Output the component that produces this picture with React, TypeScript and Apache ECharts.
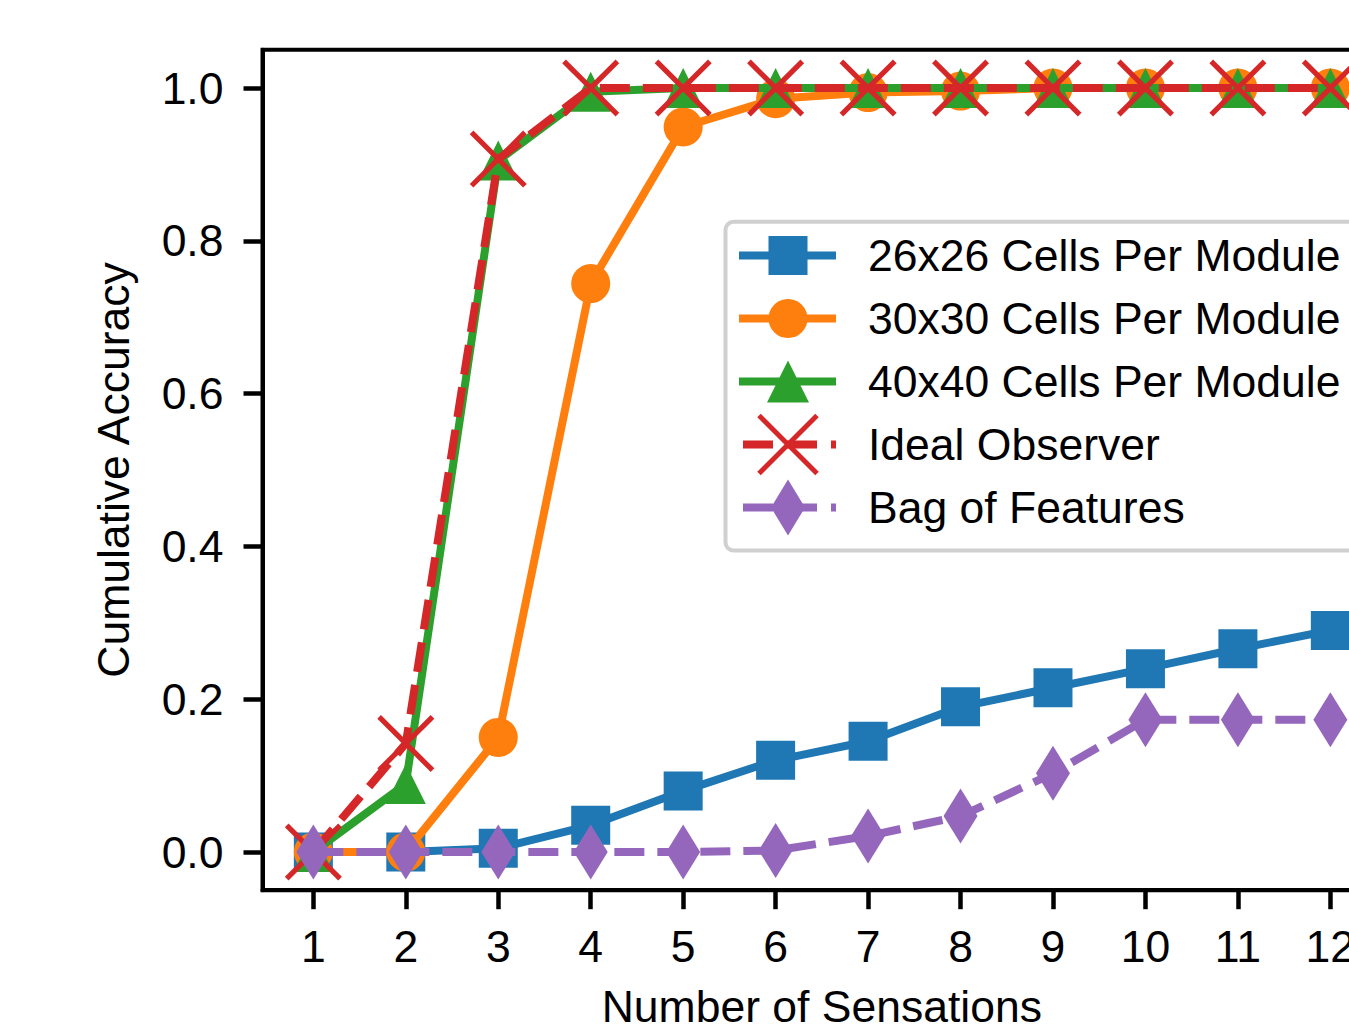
import React, { useEffect, useRef } from "react";
import * as echarts from "echarts";

// ---- data ----
const sensations = [1, 2, 3, 4, 5, 6, 7, 8, 9, 10, 11, 12];
const acc26 = [0, 0, 0.005, 0.035, 0.08, 0.12, 0.145, 0.19, 0.215, 0.24, 0.266, 0.29];
const acc30 = [0, 0, 0.15, 0.744, 0.949, 0.986, 0.994, 0.996, 1, 1, 1, 1];
const acc40 = [0, 0.089, 0.905, 0.995, 1, 1, 1, 1, 1, 1, 1, 1];
const accIdeal = [0, 0.142, 0.907, 1, 1, 1, 1, 1, 1, 1, 1, 1];
const accBag = [0, 0, 0, 0, 0, 0.002, 0.021, 0.047, 0.103, 0.173, 0.173, 0.173];
const yTicks = [0, 0.2, 0.4, 0.6, 0.8, 1.0];
const seriesNames = [
  "26x26 Cells Per Module",
  "30x30 Cells Per Module",
  "40x40 Cells Per Module",
  "Ideal Observer",
  "Bag of Features",
];
const colors = ["#1f77b4", "#ff7f0e", "#2ca02c", "#d62728", "#9467bd"];

const FONT = "Liberation Sans, Arial, sans-serif";
const FS = 44.5;
const c = 6.4;
const X_PATH = `path://M${c} 0L50 ${50 - c}L${100 - c} 0L100 ${c}L${50 + c} 50L100 ${100 - c}L${100 - c} 100L50 ${50 + c}L${c} 100L0 ${100 - c}L${50 - c} 50L0 ${c}Z`;

function pairs(vals: number[]) {
  return sensations.map((x, i) => [x, vals[i]]);
}

function legendGraphics() {
  const els: any[] = [];
  els.push({
    type: "rect",
    shape: { x: 725.5, y: 221.7, width: 800, height: 328.8, r: 8 },
    style: { fill: "#ffffff", stroke: "#d0d0d0", lineWidth: 4 },
    z: 100,
  });
  seriesNames.forEach((name, i) => {
    const y = 255.5 + 63 * i;
    const col = colors[i];
    const dashed = i >= 3;
    els.push({
      type: "line",
      shape: { x1: dashed ? 743 : 739, y1: y, x2: 836, y2: y },
      style: { stroke: col, lineWidth: 8, lineDash: dashed ? [30, 14] : null, lineCap: "butt" },
      z: 101,
    });
    if (i === 0) {
      els.push({ type: "rect", shape: { x: 768.5, y: y - 19.5, width: 39, height: 39 }, style: { fill: col }, z: 102 });
    } else if (i === 1) {
      els.push({ type: "circle", shape: { cx: 788, cy: y, r: 19.5 }, style: { fill: col }, z: 102 });
    } else if (i === 2) {
      els.push({
        type: "polygon",
        shape: { points: [[788, y - 21], [767, y + 21], [809, y + 21]] },
        style: { fill: col },
        z: 102,
      });
    } else if (i === 3) {
      els.push({ type: "line", shape: { x1: 759, y1: y - 29, x2: 817, y2: y + 29 }, style: { stroke: col, lineWidth: 5 }, z: 102 });
      els.push({ type: "line", shape: { x1: 817, y1: y - 29, x2: 759, y2: y + 29 }, style: { stroke: col, lineWidth: 5 }, z: 102 });
    } else {
      els.push({
        type: "polygon",
        shape: { points: [[788, y - 28], [805, y], [788, y + 28], [771, y]] },
        style: { fill: col },
        z: 102,
      });
    }
    els.push({
      type: "text",
      x: 868,
      y: y,
      style: { text: name, font: `${FS}px ${FONT}`, fill: "#000", verticalAlign: "middle", align: "left" },
      z: 102,
    });
  });
  return els;
}

export default function App() {
  const ref = useRef<HTMLDivElement>(null);
  useEffect(() => {
    if (!ref.current) return;
    const chart = echarts.init(ref.current, null, { renderer: "svg" });
    const base = (i: number) => ({
      name: seriesNames[i],
      type: "line",
      z: 2 + i,
      showSymbol: true,
      showAllSymbol: true,
      clip: false,
      itemStyle: { color: colors[i] },
      lineStyle: {
        color: colors[i],
        width: 8,
        type: i >= 3 ? [30, 13] : "solid",
        join: "round",
        cap: "butt",
      },
      emphasis: { disabled: true },
    });
    chart.setOption({
      animation: false,
      backgroundColor: "#ffffff",
      textStyle: { fontFamily: FONT },
      grid: {
        left: 262.5,
        top: 49.8,
        width: 1118.7,
        height: 840.4,
        containLabel: false,
        outerBoundsMode: "none",
        show: true,
        borderColor: "#000",
        borderWidth: 4,
        backgroundColor: "transparent",
      },
      xAxis: {
        type: "value",
        min: 0.45,
        max: 12.55,
        name: "Number of Sensations",
        nameLocation: "middle",
        nameGap: 94,
        nameTextStyle: { fontSize: FS, color: "#000", fontFamily: FONT },
        axisLine: { show: true, onZero: false, lineStyle: { color: "#000", width: 4 } },
        axisTick: { show: true, length: 19, customValues: sensations, lineStyle: { color: "#000", width: 4.5 } },
        axisLabel: { customValues: sensations, fontSize: FS, color: "#000", margin: 34, fontFamily: FONT },
        splitLine: { show: false },
      },
      yAxis: {
        type: "value",
        min: -0.05,
        max: 1.05,
        name: "Cumulative Accuracy",
        nameLocation: "middle",
        nameGap: 127,
        nameTextStyle: { fontSize: FS, color: "#000", fontFamily: FONT },
        axisLine: { show: true, onZero: false, lineStyle: { color: "#000", width: 4 } },
        axisTick: { show: true, length: 19, customValues: yTicks, lineStyle: { color: "#000", width: 4.5 } },
        axisLabel: {
          customValues: yTicks,
          fontSize: FS,
          color: "#000",
          margin: 39,
          fontFamily: FONT,
          formatter: (v: number) => v.toFixed(1),
        },
        splitLine: { show: false },
      },
      series: [
        { ...base(0), data: pairs(acc26), symbol: "rect", symbolSize: 39 },
        { ...base(1), data: pairs(acc30), symbol: "circle", symbolSize: 39 },
        { ...base(2), data: pairs(acc40), symbol: "triangle", symbolSize: [40, 40] },
        { ...base(3), data: pairs(accIdeal), symbol: X_PATH, symbolSize: 57 },
        { ...base(4), data: pairs(accBag), symbol: "diamond", symbolSize: [34, 55] },
      ],
      graphic: legendGraphics(),
    });
    return () => chart.dispose();
  }, []);
  return (
    <div
      ref={ref}
      style={{ position: "fixed", left: 0, top: 0, width: 1349, height: 1024, background: "#fff" }}
    />
  );
}
